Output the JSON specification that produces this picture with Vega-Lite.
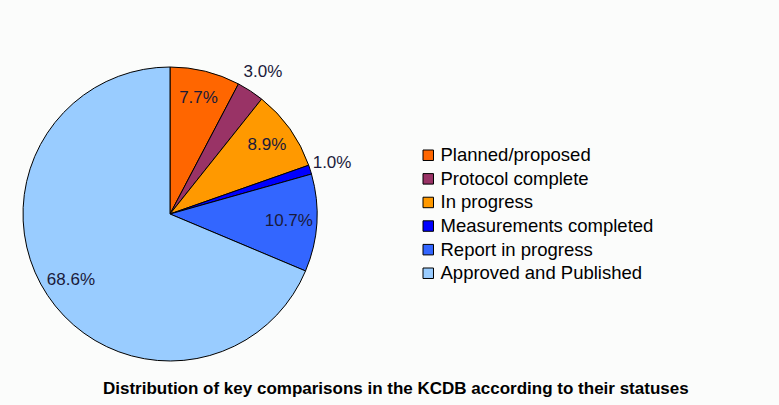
{
  "$schema": "https://vega.github.io/schema/vega-lite/v6.json",
  "width": 320,
  "height": 340,
  "padding": {"left": 10, "top": 39, "right": 160, "bottom": 20},
  "background": "#fbfcfb",
  "title": {
    "text": "Distribution of key comparisons in the KCDB according to their statuses",
    "orient": "bottom",
    "anchor": "start",
    "dx": 93,
    "offset": -3,
    "font": "Liberation Sans",
    "fontSize": 17,
    "fontWeight": "bold",
    "color": "#000000"
  },
  "data": {
    "values": [
      {"status": "Planned/proposed", "share": 0.077, "rank": 1},
      {"status": "Protocol complete", "share": 0.030, "rank": 2},
      {"status": "In progress", "share": 0.089, "rank": 3},
      {"status": "Measurements completed", "share": 0.010, "rank": 4},
      {"status": "Report in progress", "share": 0.107, "rank": 5},
      {"status": "Approved and Published", "share": 0.686, "rank": 6}
    ]
  },
  "encoding": {
    "theta": {"field": "share", "type": "quantitative", "stack": true},
    "order": {"field": "rank", "type": "quantitative"},
    "detail": {"field": "status", "type": "nominal"}
  },
  "layer": [
    {
      "mark": {"type": "arc", "outerRadius": 147, "stroke": "#000000", "strokeWidth": 1},
      "encoding": {
        "color": {
          "field": "status",
          "type": "nominal",
          "sort": null,
          "scale": {
            "domain": ["Planned/proposed", "Protocol complete", "In progress", "Measurements completed", "Report in progress", "Approved and Published"],
            "range": ["#FF6600", "#993366", "#FF9900", "#0000FF", "#3366FF", "#99CCFF"]
          },
          "legend": {
            "title": null,
            "orient": "none",
            "legendX": 409,
            "legendY": 102,
            "padding": 0,
            "symbolType": "square",
            "symbolSize": 110,
            "symbolStrokeColor": "#000000",
            "symbolStrokeWidth": 1,
            "labelFont": "Liberation Sans",
            "labelFontSize": 18.5,
            "labelColor": "#000000",
            "labelOffset": 3,
            "rowPadding": 4.6,
            "labelLimit": 400
          }
        }
      }
    },
    {
      "mark": {"type": "text", "radius": 119, "font": "Liberation Sans", "fontSize": 17, "align": "center", "baseline": "middle", "color": "#1a1a3a"},
      "encoding": {
        "text": {"condition": {"test": "datum.share >= 0.05", "field": "share", "type": "quantitative", "format": ".1%"}, "value": ""}
      }
    },
    {
      "mark": {"type": "text", "radius": 170, "font": "Liberation Sans", "fontSize": 17, "align": "center", "baseline": "middle", "color": "#1a1a3a"},
      "encoding": {
        "text": {"condition": {"test": "datum.share < 0.05", "field": "share", "type": "quantitative", "format": ".1%"}, "value": ""}
      }
    }
  ],
  "config": {"view": {"stroke": null}}
}
